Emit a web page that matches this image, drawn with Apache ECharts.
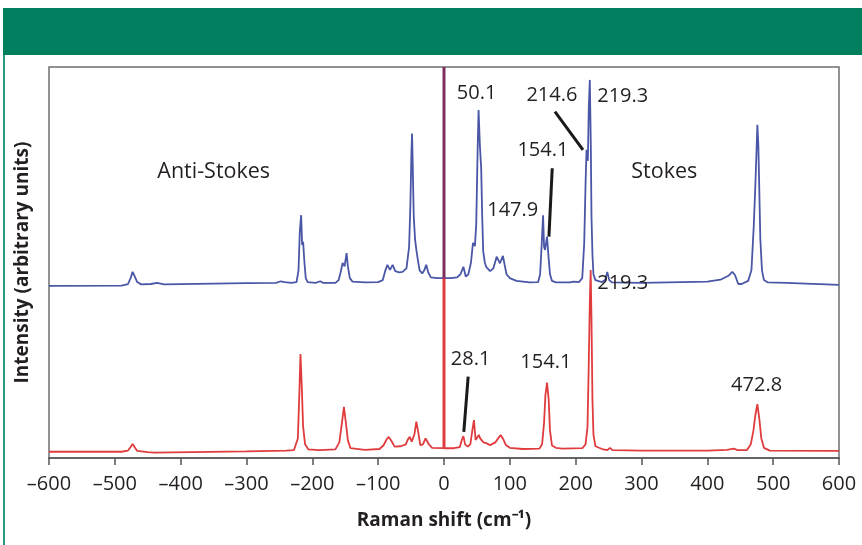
<!DOCTYPE html>
<html><head><meta charset="utf-8">
<script src="https://cdn.jsdelivr.net/npm/echarts@6/dist/echarts.min.js"></script>
<style>html,body{margin:0;padding:0;background:#fff}#c{width:862px;height:545px}</style>
</head><body><div id="c"></div>
<script>
// x tick labels
const xTickValues = [-600,-500,-400,-300,-200,-100,0,100,200,300,400,500,600];
const xTickLabels = ['–600','–500','–400','–300','–200','–100','0','100','200','300','400','500','600'];

// Upper (blue) spectrum: Raman shift (cm-1) and intensity (arb.)
const blueShift = [-600,-490,-480,-476,-473,-470,-466,-460,-445,-436,-425,-300,-255,-248,-245,-242,-232,-224,-221,-219,-217,-215.5,-214,-212,-210,-207,-195,-188,-184,-165,-160,-157,-154,-151,-148,-146,-143,-139,-120,-100,-93,-89,-86,-82,-78,-74,-68,-63,-57,-53,-51,-49.5,-48.5,-47.5,-46,-44,-42,-40,-37,-33,-30,-27,-24,-20,-10,0,10,20,25,29.5,33,37,41,44,47,49,51,52.5,54.5,56.5,58,59.5,62,64,70,75,80,82,85,89.5,92,95,100,110,130,143,146,148.5,150.5,152,153.5,156.5,159,161,164,170,185,188,191,197,205,210,213,215,216.5,218.5,220,221.5,223,224,225.5,227,230,240,245,248,251,255,300,400,420,432,438,442,447,452,462,467,470.5,473,475,476,477.5,479,480.5,483,486,492,520,600];
const blueIntensity = [44.0,44.1,44.5,46.0,47.6,46.5,45.0,44.4,44.5,44.8,44.4,44.7,44.8,45.2,45.4,45.0,44.8,45.0,48.0,58.0,62.1,54.5,55.3,50.0,46.0,45.0,44.8,45.2,44.8,44.8,45.5,47.5,49.9,49.0,52.4,49.0,46.0,45.1,44.9,45.0,45.5,48.0,49.4,48.1,49.4,47.8,47.5,47.6,48.5,54.0,65.0,78.0,83.0,75.0,62.0,56.0,53.2,51.0,48.0,47.2,48.0,49.4,47.5,46.2,46.0,46.0,46.0,46.2,47.0,48.9,46.4,47.0,50.0,55.0,54.2,60.0,78.0,89.0,80.0,74.0,62.0,53.0,50.0,48.9,47.8,48.5,51.5,51.5,49.8,51.7,49.5,47.0,46.0,45.3,44.9,45.0,47.0,55.0,62.1,54.0,53.2,56.6,51.0,47.0,45.3,44.9,44.9,45.3,44.9,45.1,45.0,46.0,55.0,70.0,78.8,76.0,90.0,96.7,80.0,62.0,52.0,47.0,45.5,45.0,45.6,47.6,45.5,44.9,44.8,45.1,45.6,46.6,47.6,46.8,44.5,44.5,45.3,48.0,59.2,70.0,80.0,85.2,80.0,68.0,56.0,48.0,45.5,44.9,44.8,44.3];

// Lower (red) spectrum
const redShift = [-600,-490,-480,-476,-473,-470,-466,-450,-440,-300,-240,-228,-222,-220,-218,-216,-214,-211,-206,-190,-165,-159,-155,-152,-149,-146,-142,-120,-98,-92,-87,-84,-80,-75,-66,-58,-55,-52,-49,-45,-42,-39,-36,-32,-28,-26,-23,-18,0,15,24,27,29.5,32,36,40,43,45.5,48,50,53,55,57,60,64,70,78,83,86,90,94,100,120,145,149,152,154,156.5,159,161,164,170,180,210,215,218,220,221.5,222.8,224,225.5,227,230,240,248,252,256,300,400,430,440,446,460,466,470,473,476,479,482,486,495,600];
const redIntensity = [1.6,1.6,1.9,2.8,3.6,2.8,1.8,1.5,1.4,1.7,1.9,2.0,5.0,15.0,26.6,18.0,8.0,3.5,2.2,2.0,2.2,4.0,9.0,13.1,9.0,4.5,2.5,2.1,2.3,3.2,4.8,5.4,4.4,2.9,3.0,3.5,4.7,5.4,4.2,6.0,9.3,6.5,3.3,3.5,5.0,5.4,3.5,2.6,2.5,2.5,2.8,4.6,5.6,3.5,2.9,3.5,7.0,9.7,4.6,4.9,5.9,5.0,5.4,4.0,3.8,3.3,4.0,5.2,5.9,4.8,3.3,2.6,2.3,2.4,3.5,9.0,16.0,19.3,15.0,7.0,3.2,2.6,2.4,2.5,3.5,8.0,25.0,40.0,48.1,36.0,15.0,6.0,3.0,2.3,2.0,2.6,2.0,1.9,1.9,2.1,2.4,2.0,2.0,3.5,7.0,11.0,13.8,10.0,5.0,2.6,1.9,1.8];

// Laser (Rayleigh) line at 0 cm-1
const laserShift = [0, 0];
const laserLower = [2.5, 46];
const laserUpper = [46, 100];

// Peak annotations: text, shift, intensity position
const annoText  = ['50.1','214.6','219.3','154.1','147.9','Anti-Stokes','Stokes','219.3','28.1','154.1','472.8'];
const annoShift = [49.5, 163.9, 271.5, 150.2, 104.4, -349.8, 334.6, 271.5, 40.4, 154.7, 474.8];
const annoLevel = [93.4, 92.8, 92.6, 78.8, 63.4, 73.1, 73.1, 44.8, 25.3, 24.6, 18.7];
const annoSize  = [20, 20, 20, 20, 20, 21.5, 21.5, 20, 20, 20, 20];

// Leader lines: [shift1, level1, shift2, level2]
const leaders = [[168.5, 88.6, 211.1, 78.8],[164.4, 74.1, 159.4, 56.6],[36.7, 20.8, 30.1, 6.7]];

const zip = (a, b) => a.map((v, i) => [v, b[i]]);
const TXT = '#231f20';
const chart = echarts.init(document.getElementById('c'));
chart.setOption({
  animation: false,
  backgroundColor: '#fff',
  graphic: [
    {type: 'rect', shape: {x: 3, y: 8, width: 859, height: 47}, style: {fill: '#007f5f'}, silent: true},
    {type: 'rect', shape: {x: 3, y: 55, width: 2, height: 490}, style: {fill: '#2a9a7c'}, silent: true}
  ],
  grid: {left: 49, right: 23, top: 67, bottom: 87, show: true, borderColor: '#6e6e6e', borderWidth: 1.5, backgroundColor: 'transparent'},
  xAxis: {
    type: 'value', min: -600, max: 600, interval: 100,
    name: 'Raman shift (cm⁻¹)', nameLocation: 'middle', nameGap: 53,
    nameTextStyle: {fontFamily: 'Open Sans', fontWeight: 'bold', fontSize: 19, color: TXT},
    axisLine: {show: true, lineStyle: {color: '#555', width: 1.5}},
    axisTick: {show: true, inside: false, length: 7, lineStyle: {color: '#555', width: 1.5}},
    axisLabel: {margin: 16, fontFamily: 'Open Sans', fontSize: 20, color: TXT,
      formatter: v => { const i = xTickValues.indexOf(v); return i >= 0 ? xTickLabels[i] : ''; }},
    splitLine: {show: false}
  },
  yAxis: {
    type: 'value', min: 0, max: 100,
    name: 'Intensity (arbitrary units)', nameLocation: 'middle', nameGap: 17, nameRotate: 90,
    nameTextStyle: {fontFamily: 'Open Sans', fontWeight: 'bold', fontSize: 19, color: TXT},
    axisLine: {show: false}, axisTick: {show: false}, axisLabel: {show: false}, splitLine: {show: false}
  },
  series: [
    {type: 'line', data: zip(redShift, redIntensity), showSymbol: false, symbol: 'none',
      lineStyle: {color: '#e03c3e', width: 1.8}, z: 2},
    {type: 'line', data: zip(blueShift, blueIntensity), showSymbol: false, symbol: 'none',
      lineStyle: {color: '#4a56a6', width: 1.8}, z: 3},
    {type: 'line', data: zip(laserShift, laserLower), showSymbol: false, symbol: 'none',
      lineStyle: {color: '#e03c3e', width: 3}, z: 4},
    {type: 'line', data: zip(laserShift, laserUpper), showSymbol: false, symbol: 'none',
      lineStyle: {color: '#7e2f5c', width: 3}, z: 4},
    {type: 'lines', coordinateSystem: 'cartesian2d', silent: true, z: 5,
      lineStyle: {color: '#1a1a1a', width: 3, opacity: 1},
      data: leaders.map(l => ({coords: [[l[0], l[1]], [l[2], l[3]]]}))},
    {type: 'scatter', symbolSize: 0, silent: true, z: 6, itemStyle: {opacity: 1},
      data: annoText.map((t, i) => ({name: t, value: [annoShift[i], annoLevel[i]],
        label: {fontSize: annoSize[i]}})),
      label: {show: true, position: 'inside', formatter: p => p.name, fontFamily: 'Open Sans',
        fontSize: 20, color: TXT, opacity: 1, textBorderWidth: 0}}
  ]
});
</script></body></html>
